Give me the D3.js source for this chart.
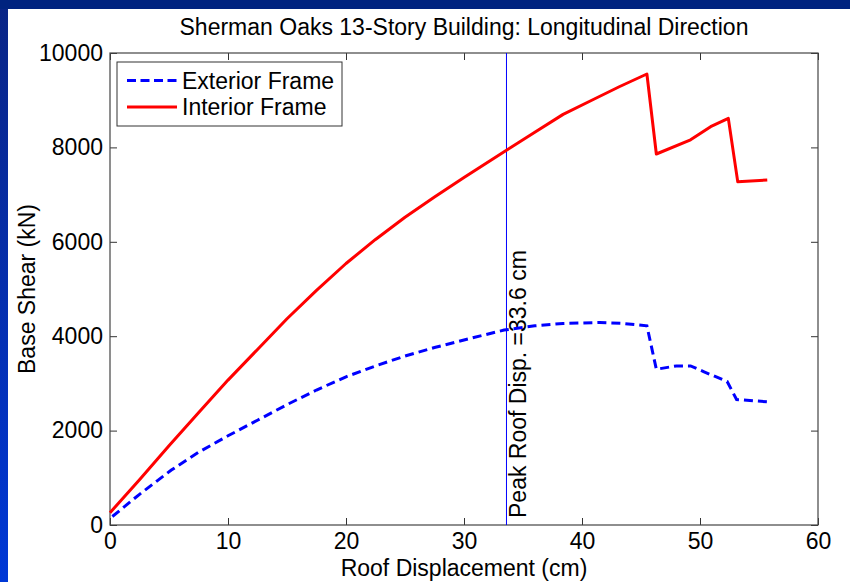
<!DOCTYPE html>
<html>
<head>
<meta charset="utf-8">
<script src="https://cdn.jsdelivr.net/npm/d3@7"></script>
<style>
  html, body { margin: 0; padding: 0; background: #fff; }
  svg { display: block; font-family: "Liberation Sans", Arial, sans-serif; }
</style>
</head>
<body>
<div id="container"></div>
<script>
// roof displacement (cm) vs base shear (kN)
const exteriorDisp = [0.2, 2.5, 5.2, 7.5, 10, 12.5, 15, 17.5, 20, 22.5, 25, 27.5, 30, 33.4, 36, 38.4, 41.5, 43.5, 45.5, 46.3, 48, 49.2, 50.3, 52.3, 53.1, 55.7];
const exteriorShear = [180, 650, 1165, 1540, 1890, 2220, 2550, 2860, 3140, 3370, 3580, 3760, 3920, 4130, 4220, 4270, 4290, 4270, 4220, 3300, 3370, 3370, 3250, 3040, 2660, 2610];

const interiorDisp = [0, 2.5, 5, 7.5, 10, 12.5, 15, 17.5, 20, 22.5, 25, 27.5, 30, 33.4, 36, 38.4, 41, 43.2, 45.5, 46.3, 49.2, 50.9, 52.4, 53.2, 55.7];
const interiorShear = [260, 960, 1680, 2380, 3070, 3720, 4370, 4970, 5540, 6050, 6520, 6950, 7360, 7910, 8320, 8700, 9020, 9290, 9555, 7860, 8160, 8440, 8615, 7270, 7310];

const peakDisp = 33.6;
const xTicks = [0, 10, 20, 30, 40, 50, 60];
const yTicks = [0, 2000, 4000, 6000, 8000, 10000];
const seriesNames = ["Exterior Frame", "Interior Frame"];

const W = 850, H = 582;
const margin = { top: 53, right: 32, bottom: 57, left: 110 };

const svg = d3.select("#container").append("svg")
  .attr("width", W).attr("height", H);

// slide frame
const defs = svg.append("defs");
const grad = defs.append("linearGradient").attr("id", "side")
  .attr("x1", 0).attr("y1", 0).attr("x2", 0).attr("y2", 1);
grad.append("stop").attr("offset", "0%").attr("stop-color", "#0a2585");
grad.append("stop").attr("offset", "100%").attr("stop-color", "#0038d6");
svg.append("rect").attr("width", W).attr("height", H).attr("fill", "#fff");
svg.append("rect").attr("x", 0).attr("y", 0).attr("width", 8).attr("height", H).attr("fill", "url(#side)");
svg.append("rect").attr("x", 0).attr("y", 0).attr("width", W).attr("height", 9).attr("fill", "#00237f");

const x = d3.scaleLinear().domain([0, 60]).range([margin.left, W - margin.right]);
const y = d3.scaleLinear().domain([0, 10000]).range([H - margin.bottom, margin.top]);

const fontSize = 23;

// axes, ticks pointing inward like matlab
const gx = svg.append("g").attr("transform", `translate(0,${y(0)})`)
  .call(d3.axisBottom(x).tickValues(xTicks).tickSizeInner(-7).tickSizeOuter(0).tickPadding(8));
const gxTop = svg.append("g").attr("transform", `translate(0,${y(10000)})`)
  .call(d3.axisTop(x).tickValues(xTicks).tickSizeInner(-7).tickSizeOuter(0).tickFormat(""));
const gy = svg.append("g").attr("transform", `translate(${x(0)},0)`)
  .call(d3.axisLeft(y).tickValues(yTicks).tickFormat(d3.format("d"))
    .tickSizeInner(-7).tickSizeOuter(0).tickPadding(7));
const gyRight = svg.append("g").attr("transform", `translate(${x(60)},0)`)
  .call(d3.axisRight(y).tickValues(yTicks).tickSizeInner(-7).tickSizeOuter(0).tickFormat(""));

[gx, gxTop, gy, gyRight].forEach((g) => {
  g.select(".domain").remove();
  g.selectAll(".tick line").attr("stroke", "#333");
  g.selectAll("text").attr("font-size", fontSize).attr("fill", "#000")
    .attr("font-family", "Liberation Sans, Arial, sans-serif");
});

svg.append("rect")
  .attr("x", x(0)).attr("y", y(10000))
  .attr("width", x(60) - x(0)).attr("height", y(0) - y(10000))
  .attr("fill", "none").attr("stroke", "#444").attr("stroke-width", 1.2);

// peak roof displacement marker
svg.append("line")
  .attr("x1", x(peakDisp)).attr("x2", x(peakDisp))
  .attr("y1", y(0)).attr("y2", y(10000))
  .attr("stroke", "#0000ff").attr("stroke-width", 1);
svg.append("text")
  .attr("transform", `translate(${x(peakDisp) + 20},${y(0) - 7}) rotate(-90)`)
  .attr("font-size", fontSize)
  .text("Peak Roof Disp. =" + peakDisp + " cm");

const line = d3.line().x((d) => x(d[0])).y((d) => y(d[1]));
const exterior = d3.zip(exteriorDisp, exteriorShear);
const interior = d3.zip(interiorDisp, interiorShear);

svg.append("path").datum(interior).attr("d", line)
  .attr("fill", "none").attr("stroke", "#ff0000").attr("stroke-width", 3)
  .attr("stroke-linejoin", "round");
svg.append("path").datum(exterior).attr("d", line)
  .attr("fill", "none").attr("stroke", "#0000ff").attr("stroke-width", 3)
  .attr("stroke-dasharray", "9,5");

// legend
const legend = svg.append("g").attr("transform", "translate(117,62)");
legend.append("rect").attr("width", 225).attr("height", 64)
  .attr("fill", "#fff").attr("stroke", "#333").attr("stroke-width", 1);
const legendStyles = [
  { color: "#0000ff", dash: "9,4.5" },
  { color: "#ff0000", dash: null },
];
seriesNames.forEach((name, i) => {
  const row = legend.append("g").attr("transform", `translate(0,${18.5 + i * 26.5})`);
  row.append("line").attr("x1", 10).attr("x2", 60)
    .attr("stroke", legendStyles[i].color).attr("stroke-width", 3)
    .attr("stroke-dasharray", legendStyles[i].dash);
  row.append("text").attr("x", 65).attr("dy", "0.36em")
    .attr("font-size", fontSize).text(name);
});

// title and axis labels
svg.append("text")
  .attr("x", (x(0) + x(60)) / 2).attr("y", 35)
  .attr("text-anchor", "middle").attr("font-size", fontSize)
  .text("Sherman Oaks 13-Story Building: Longitudinal Direction");
svg.append("text")
  .attr("x", (x(0) + x(60)) / 2).attr("y", 576)
  .attr("text-anchor", "middle").attr("font-size", fontSize)
  .text("Roof Displacement (cm)");
svg.append("text")
  .attr("transform", `translate(35,${(y(0) + y(10000)) / 2}) rotate(-90)`)
  .attr("text-anchor", "middle").attr("font-size", fontSize)
  .text("Base Shear (kN)");
</script>
</body>
</html>
